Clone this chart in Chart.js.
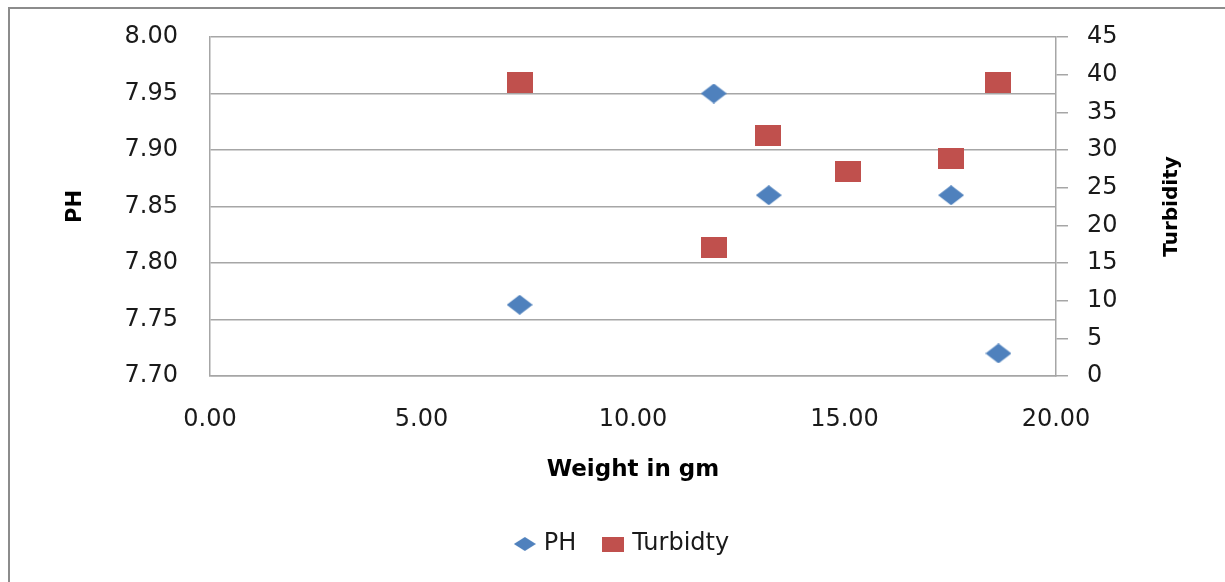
<!DOCTYPE html>
<html>
<head>
<meta charset="utf-8">
<script src="https://cdn.jsdelivr.net/npm/chart.js@4.4.0/dist/chart.umd.min.js"></script>
<style>
  html, body { margin: 0; padding: 0; background: #fff; overflow: hidden; }
  #phChart { display: block; }
</style>
</head>
<body>
<canvas id="phChart" width="1225" height="582"></canvas>
<script>
// values
const weightPH = [7.32, 11.91, 13.21, 17.52, 18.64];
const phValues = [7.763, 7.95, 7.86, 7.86, 7.72];
const weightTurbidity = [7.32, 11.91, 13.20, 15.08, 17.52, 18.64];
const turbidityValues = [38.9, 17.0, 31.9, 27.1, 28.9, 38.9];
const xTicks = [0, 5, 10, 15, 20];
const phTicks = [7.70, 7.75, 7.80, 7.85, 7.90, 7.95, 8.00];
const turbidityTicks = [0, 5, 10, 15, 20, 25, 30, 35, 40, 45];

const BLUE = "#4f81bd";
const RED = "#c0504d";
const FONT = "'DejaVu Sans', Verdana, sans-serif";

// marker images (the original markers are a bit wider than tall)
function makeDiamond(w, h, color) {
    const c = document.createElement("canvas");
    c.width = w; c.height = h;
    const g = c.getContext("2d");
    g.fillStyle = color;
    g.beginPath();
    g.moveTo(w / 2, 0);
    g.lineTo(w, h / 2);
    g.lineTo(w / 2, h);
    g.lineTo(0, h / 2);
    g.closePath();
    g.fill();
    return c;
}
function makeSquare(w, h, color) {
    const c = document.createElement("canvas");
    c.width = w; c.height = h;
    const g = c.getContext("2d");
    g.fillStyle = color;
    g.fillRect(0, 0, w, h);
    return c;
}
const plotDiamond = makeDiamond(26, 20, BLUE);
const plotSquare = makeSquare(26, 21, RED);
const legendDiamond = makeDiamond(22, 14, BLUE);
const legendSquare = makeSquare(22, 15, RED);

function toPoints(xs, ys) {
    return xs.map((x, i) => ({ x: x, y: ys[i] }));
}

// outer frame (only left and top edges are visible) + right axis title read bottom-up
const framePlugin = {
    id: "frame",
    afterDraw(chart) {
        const ctx = chart.ctx;
        ctx.save();
        ctx.strokeStyle = "#8c8c8c";
        ctx.lineWidth = 2;
        ctx.beginPath();
        ctx.moveTo(9, 582);
        ctx.lineTo(9, 8);
        ctx.lineTo(1225, 8);
        ctx.stroke();

        const area = chart.chartArea;
        ctx.translate(1172, (area.top + area.bottom) / 2);
        ctx.rotate(-Math.PI / 2);
        ctx.fillStyle = "#000";
        ctx.font = "bold 20px " + FONT;
        ctx.textAlign = "center";
        ctx.textBaseline = "middle";
        ctx.fillText("Turbidity", 0, 0);
        ctx.restore();
    }
};

const ctx = document.getElementById("phChart").getContext("2d");
const chartObject = new Chart(ctx, {
    type: "scatter",
    data: {
        datasets: [
            {
                label: "PH",
                data: toPoints(weightPH, phValues),
                yAxisID: "y",
                pointStyle: plotDiamond,
                pointRadius: 10,
                pointHoverRadius: 10
            },
            {
                label: "Turbidty",
                data: toPoints(weightTurbidity, turbidityValues),
                yAxisID: "y1",
                pointStyle: plotSquare,
                pointRadius: 10,
                pointHoverRadius: 10
            }
        ]
    },
    options: {
        responsive: false,
        animation: false,
        devicePixelRatio: 1,
        layout: { padding: { left: 63, right: 41, top: 37, bottom: 16 } },
        plugins: {
            tooltip: { enabled: false },
            legend: {
                position: "bottom",
                labels: {
                    usePointStyle: true,
                    pointStyleWidth: 14,
                    padding: 30,
                    color: "#1a1a1a",
                    font: { family: FONT, size: 24 },
                    generateLabels: function (chart) {
                        const items = Chart.defaults.plugins.legend.labels.generateLabels(chart);
                        items[0].pointStyle = legendDiamond;
                        items[1].pointStyle = legendSquare;
                        return items;
                    }
                }
            }
        },
        scales: {
            x: {
                type: "linear",
                min: 0,
                max: 20,
                afterFit: function (scale) { scale.height = 126; },
                afterBuildTicks: function (scale) { scale.ticks = xTicks.map(v => ({ value: v })); },
                grid: { drawOnChartArea: false, drawTicks: false },
                border: { color: "#a6a6a6", width: 1.5 },
                ticks: {
                    padding: 29,
                    color: "#1a1a1a",
                    font: { family: FONT, size: 24 },
                    callback: v => v.toFixed(2)
                },
                title: {
                    display: true,
                    text: "Weight in gm",
                    color: "#000",
                    font: { family: FONT, size: 23, weight: "bold" },
                    padding: { top: 0, bottom: 18 }
                }
            },
            y: {
                type: "linear",
                position: "left",
                min: 7.70,
                max: 8.00,
                afterFit: function (scale) { scale.width = 147; },
                afterBuildTicks: function (scale) { scale.ticks = phTicks.map(v => ({ value: v })); },
                // invisible tick marks keep the labels away from the axis
                grid: { color: "#a6a6a6", lineWidth: 1.5, tickColor: "rgba(0,0,0,0)", tickLength: 29 },
                border: { color: "#a6a6a6", width: 1.5 },
                ticks: {
                    padding: 3,
                    color: "#1a1a1a",
                    font: { family: FONT, size: 24 },
                    callback: v => v.toFixed(2)
                },
                title: {
                    display: true,
                    text: "PH",
                    color: "#000",
                    font: { family: FONT, size: 21, weight: "bold" },
                    padding: 0
                }
            },
            y1: {
                type: "linear",
                position: "right",
                min: 0,
                max: 45,
                afterFit: function (scale) { scale.width = 128; },
                afterBuildTicks: function (scale) { scale.ticks = turbidityTicks.map(v => ({ value: v })); },
                grid: { drawOnChartArea: false, color: "#a6a6a6", lineWidth: 1.5, tickLength: 12 },
                border: { color: "#a6a6a6", width: 1.5 },
                ticks: {
                    padding: 19,
                    color: "#1a1a1a",
                    font: { family: FONT, size: 24 }
                }
            }
        }
    },
    plugins: [framePlugin]
});
</script>
</body>
</html>
